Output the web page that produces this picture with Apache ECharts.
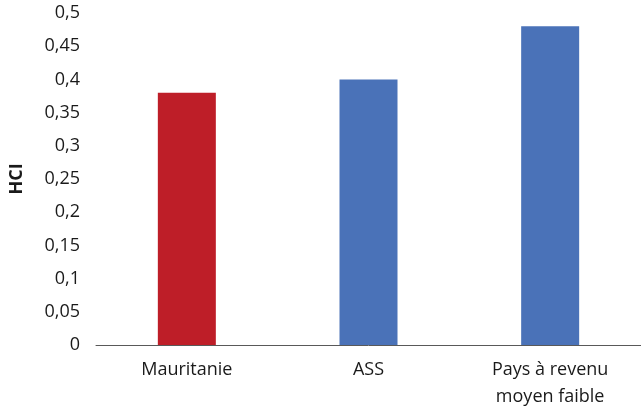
<!DOCTYPE html>
<html>
<head>
<meta charset="utf-8">
<style>
  html, body { margin: 0; padding: 0; background: #fff; }
  #chart { width: 641px; height: 419px; }
</style>
<script src="https://cdn.jsdelivr.net/npm/echarts@6/dist/echarts.min.js"></script>
</head>
<body>
<div id="chart"></div>
<script>
// Human Capital Index by group
const categories = ['Mauritanie', 'ASS', 'Pays à revenu\nmoyen faible'];
const hciValues = [0.38, 0.40, 0.48];
const barColors = ['#BE1E28', '#4A72B8', '#4A72B8'];

const chart = echarts.init(document.getElementById('chart'));
const fontFamily = '"Open Sans", sans-serif';

chart.setOption({
  animation: false,
  grid: { left: 96, right: -5, top: 13, bottom: 74 },
  xAxis: {
    type: 'category',
    data: categories,
    axisLine: { lineStyle: { color: '#595959', width: 1 } },
    axisTick: { show: false },
    axisLabel: {
      color: '#1a1a1a',
      fontSize: 18,
      fontFamily: fontFamily,
      margin: 11,
      lineHeight: 27
    }
  },
  yAxis: {
    type: 'value',
    min: 0,
    max: 0.5,
    interval: 0.05,
    name: 'HCI',
    nameLocation: 'middle',
    nameGap: 70,
    nameTextStyle: { color: '#1a1a1a', fontSize: 18, fontWeight: 'bold', fontFamily: fontFamily },
    axisLine: { show: false },
    axisTick: { show: false },
    splitLine: { show: false },
    axisLabel: {
      color: '#1a1a1a',
      fontSize: 18,
      fontFamily: fontFamily,
      margin: 16,
      formatter: v => String(Math.round(v * 100) / 100).replace('.', ',')
    }
  },
  series: [{
    type: 'bar',
    barWidth: 58,
    data: hciValues.map((v, i) => ({ value: v, itemStyle: { color: barColors[i] } }))
  }]
});
</script>
</body>
</html>
